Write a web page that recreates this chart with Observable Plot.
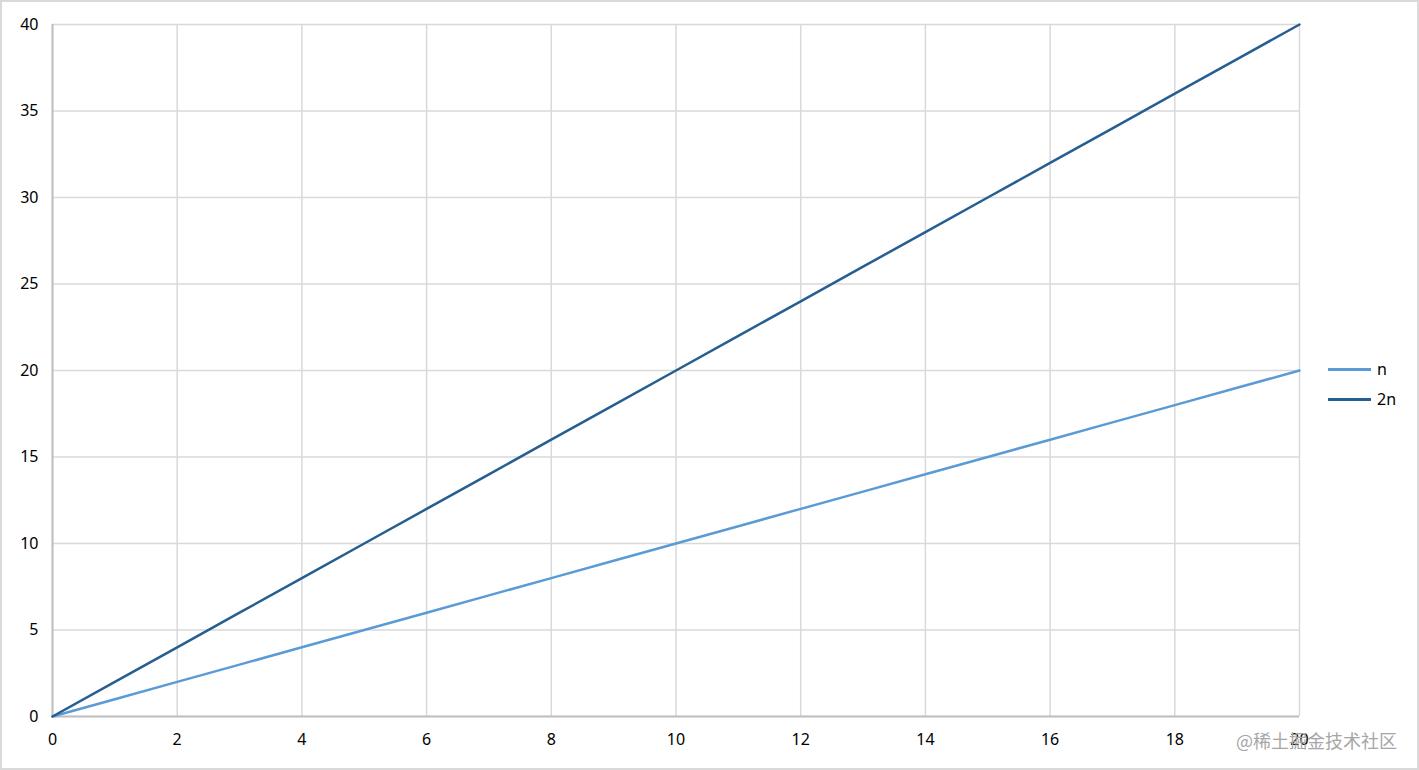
<!DOCTYPE html>
<html>
<head>
<meta charset="utf-8">
<script src="https://cdn.jsdelivr.net/npm/d3@7"></script>
<script src="https://cdn.jsdelivr.net/npm/@observablehq/plot@0.6"></script>
<style>
  html, body { margin: 0; padding: 0; background: #fff; }
  #wrap { position: relative; width: 1419px; height: 770px; overflow: hidden; }
  #frame { position: absolute; left: 0; top: 0; width: 1419px; height: 770px; box-sizing: border-box; border: 2px solid #d9d9d9; pointer-events: none; }
  #legend { position: absolute; left: 1328px; top: 354px; font: 16px "Noto Sans", sans-serif; color: #000; }
  #legend .item { display: flex; align-items: center; height: 30px; }
  #legend .sw { width: 43px; height: 3px; margin-right: 6px; }
  #wm { position: absolute; left: 1236px; top: 727px; font: 18px "Noto Sans CJK SC", sans-serif; color: #a6a6a6; }
</style>
</head>
<body>
<div id="wrap">
  <div id="chart"></div>
  <div id="legend"></div>
  <div id="wm">@稀土掘金技术社区</div>
  <div id="frame"></div>
</div>
<script>
const xs = [0, 1, 2, 3, 4, 5, 6, 7, 8, 9, 10, 11, 12, 13, 14, 15, 16, 17, 18, 19, 20];
const seriesN = [0, 1, 2, 3, 4, 5, 6, 7, 8, 9, 10, 11, 12, 13, 14, 15, 16, 17, 18, 19, 20];
const series2N = [0, 2, 4, 6, 8, 10, 12, 14, 16, 18, 20, 22, 24, 26, 28, 30, 32, 34, 36, 38, 40];
const seriesNames = ["n", "2n"];
const seriesColors = ["#5b9bd5", "#255e91"];
const xTicks = [0, 2, 4, 6, 8, 10, 12, 14, 16, 18, 20];
const yTicks = [0, 5, 10, 15, 20, 25, 30, 35, 40];

const data = [];
xs.forEach((x, i) => data.push({x, y: seriesN[i], s: seriesNames[0]}));
xs.forEach((x, i) => data.push({x, y: series2N[i], s: seriesNames[1]}));

const chart = Plot.plot({
  width: 1419,
  height: 770,
  marginLeft: 52,
  marginRight: 120,
  marginTop: 24,
  marginBottom: 54,
  style: { fontSize: "16px", fontFamily: "'Noto Sans', sans-serif", color: "#000", background: "#fff" },
  x: { domain: [0, 20], label: null },
  y: { domain: [0, 40], label: null },
  color: { domain: seriesNames, range: seriesColors },
  marks: [
    Plot.gridX(xTicks, { stroke: "#d9d9d9", strokeOpacity: 1, strokeWidth: 1.5 }),
    Plot.gridY(yTicks, { stroke: "#d9d9d9", strokeOpacity: 1, strokeWidth: 1.5 }),
    Plot.ruleX([0], { stroke: "#bfbfbf", strokeWidth: 2 }),
    Plot.ruleY([0], { stroke: "#bfbfbf", strokeWidth: 2 }),
    Plot.axisX(xTicks, { tickSize: 0, tickPadding: 17, fontSize: 16, fill: "#000", label: null }),
    Plot.axisY(yTicks, { tickSize: 0, tickPadding: 14, fontSize: 16, fill: "#000", label: null }),
    Plot.line(data, { x: "x", y: "y", z: "s", stroke: "s", strokeWidth: 2.5 })
  ]
});
document.getElementById("chart").appendChild(chart);

const legend = document.getElementById("legend");
seriesNames.forEach((name, i) => {
  const item = document.createElement("div");
  item.className = "item";
  const sw = document.createElement("div");
  sw.className = "sw";
  sw.style.background = seriesColors[i];
  const label = document.createElement("span");
  label.textContent = name;
  item.appendChild(sw);
  item.appendChild(label);
  legend.appendChild(item);
});
</script>
</body>
</html>
